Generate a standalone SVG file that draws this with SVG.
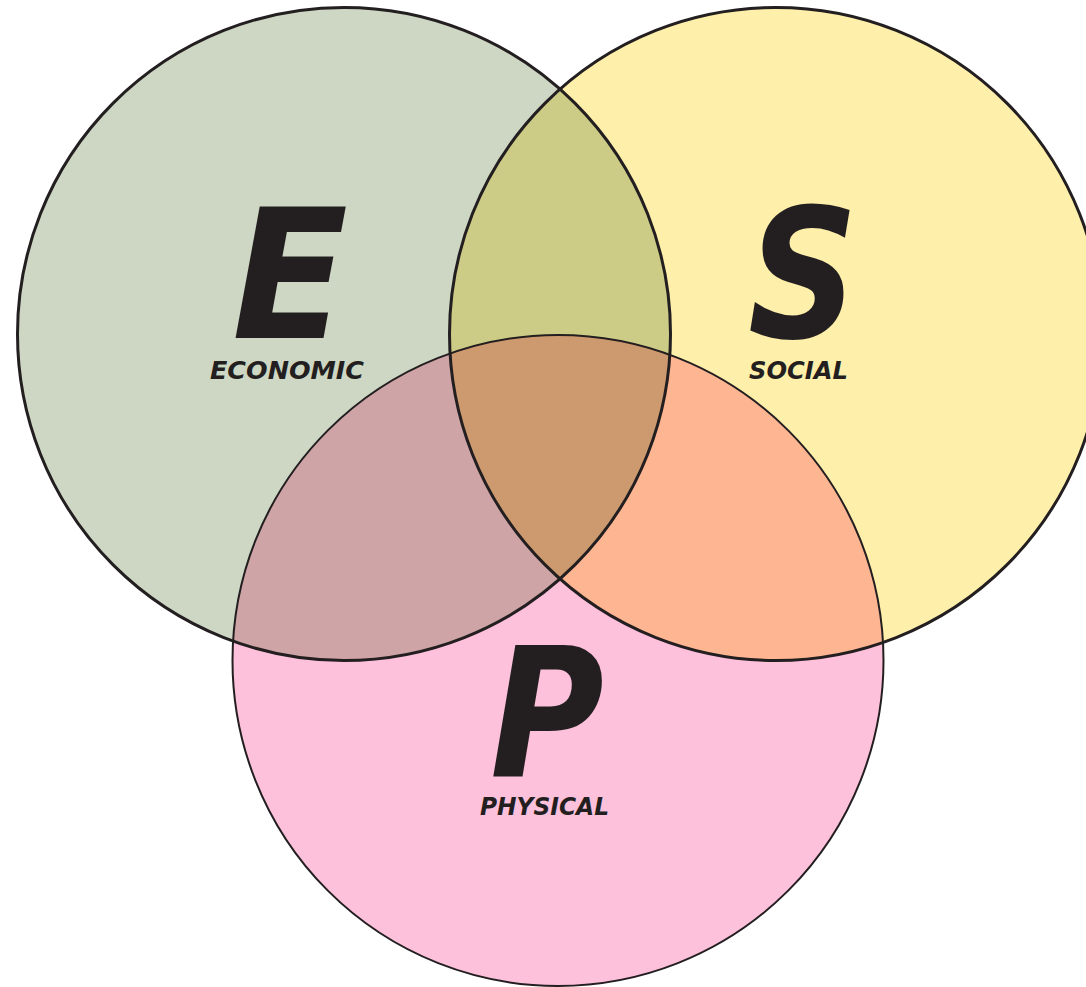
<svg xmlns="http://www.w3.org/2000/svg" width="1086" height="987" viewBox="0 0 1086 987">
<style>
.big{font-family:"DejaVu Sans","Liberation Sans",sans-serif;font-weight:bold;font-style:oblique;fill:#231F20;font-size:180px}
.lbl{font-family:"DejaVu Sans","Liberation Sans",sans-serif;font-weight:bold;font-style:oblique;fill:#231F20;font-size:24px}
.ol{fill:none;stroke:#231F20}
</style>
<defs>
<clipPath id="cE"><circle cx="344" cy="334" r="326.5"/></clipPath>
<clipPath id="cS"><circle cx="776" cy="334" r="326.5"/></clipPath>
<clipPath id="cP"><circle cx="558" cy="660.5" r="325.5"/></clipPath>
</defs>
<rect width="1086" height="987" fill="#FFFFFF"/>
<g id="node-economic">
<circle cx="344" cy="334" r="326.5" fill="#CED7C4"/>
</g>
<g id="node-social">
<circle cx="776" cy="334" r="326.5" fill="#FEEFAB"/>
</g>
<g id="node-physical">
<circle cx="558" cy="660.5" r="325.5" fill="#FEC1DB"/>
</g>
<g id="overlaps">
<g clip-path="url(#cE)"><circle cx="776" cy="334" r="326.5" fill="#CDCC86"/></g>
<g clip-path="url(#cE)"><circle cx="558" cy="660.5" r="325.5" fill="#CEA4A6"/></g>
<g clip-path="url(#cS)"><circle cx="558" cy="660.5" r="325.5" fill="#FEB592"/></g>
<g clip-path="url(#cE)"><g clip-path="url(#cS)"><circle cx="558" cy="660.5" r="325.5" fill="#CD9A6F"/></g></g>
</g>
<g id="outlines">
<circle class="ol" cx="344" cy="334" r="326.5" stroke-width="3"/>
<circle class="ol" cx="776" cy="334" r="326.5" stroke-width="3"/>
<circle class="ol" cx="558" cy="660.5" r="325.5" stroke-width="2"/>
</g>
<g id="labels">
<text class="big" x="232" y="338" textLength="116" lengthAdjust="spacingAndGlyphs">E</text>
<text class="lbl" x="210" y="379" textLength="154" lengthAdjust="spacingAndGlyphs">ECONOMIC</text>
<text class="big" x="748" y="337" textLength="110" lengthAdjust="spacingAndGlyphs">S</text>
<text class="lbl" x="749" y="379" textLength="99" lengthAdjust="spacingAndGlyphs">SOCIAL</text>
<text class="big" x="490" y="777" textLength="114" lengthAdjust="spacingAndGlyphs">P</text>
<text class="lbl" x="480" y="815" textLength="129" lengthAdjust="spacingAndGlyphs">PHYSICAL</text>
</g>
</svg>
